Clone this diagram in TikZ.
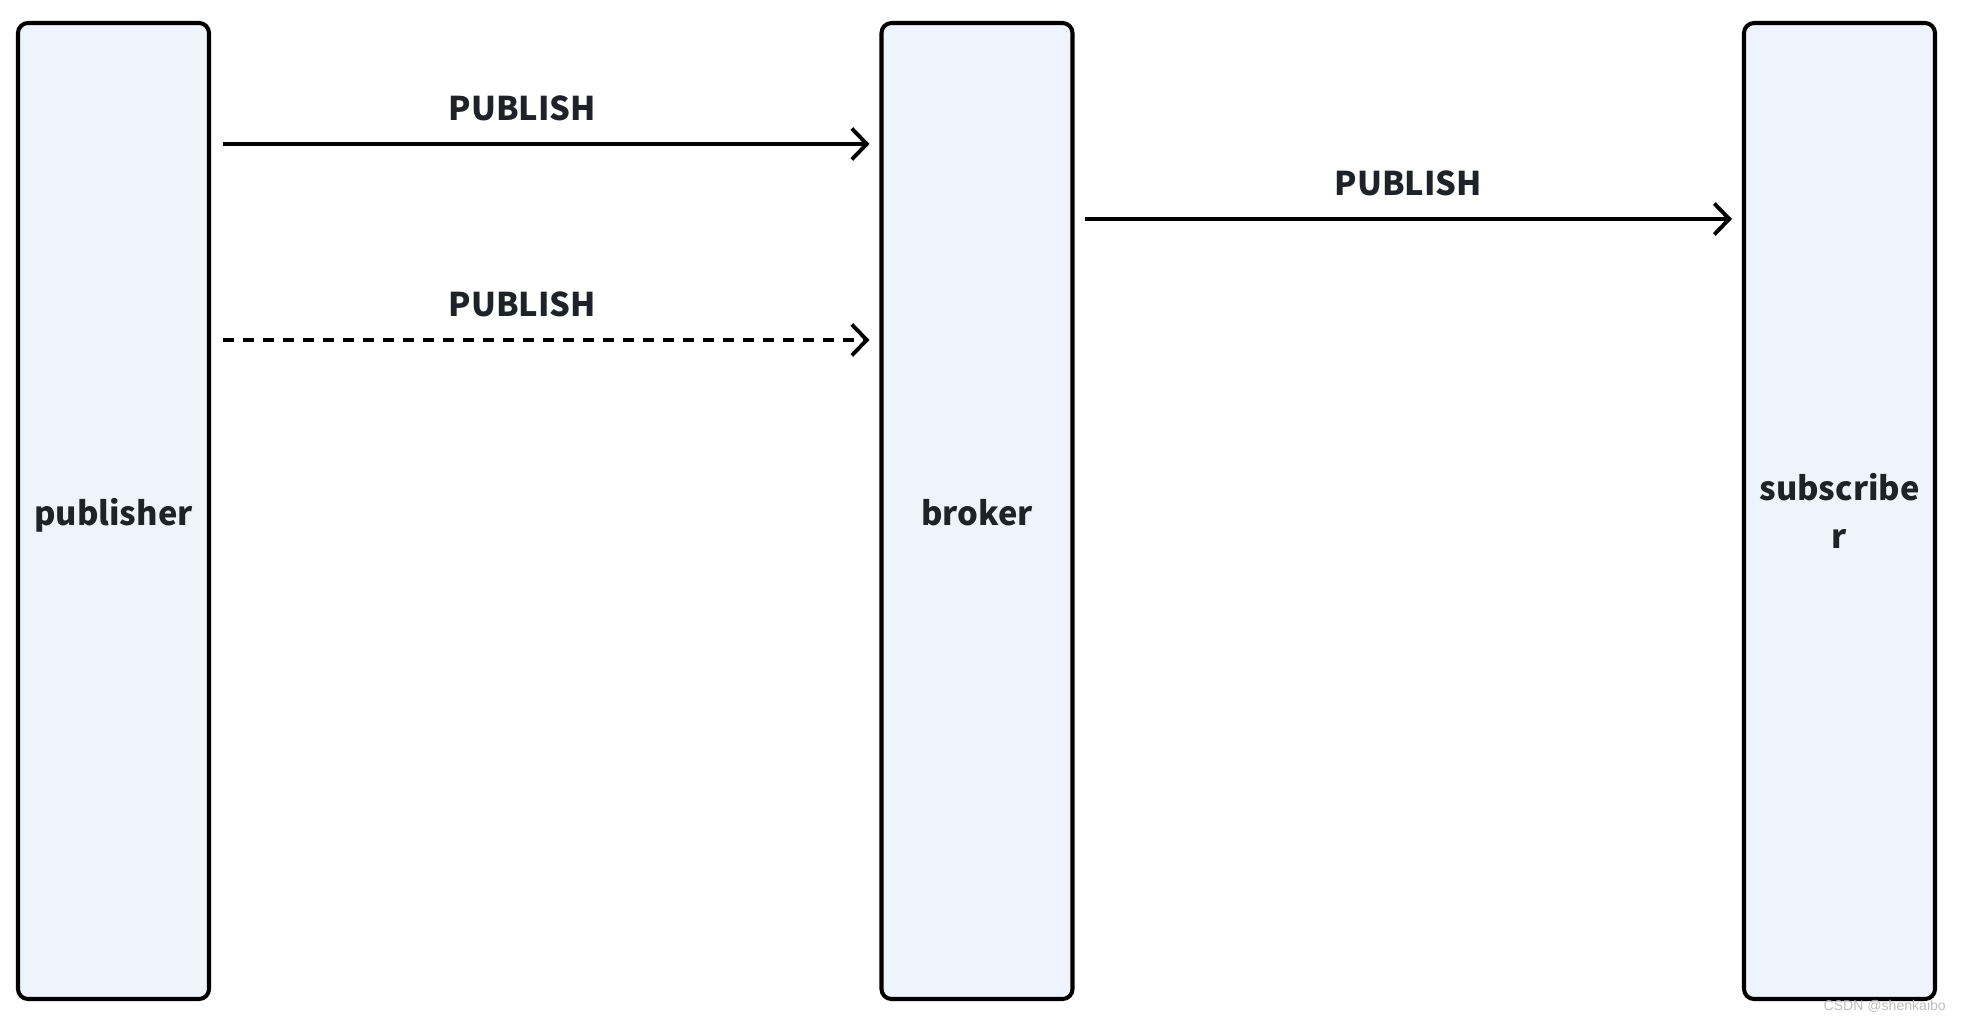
\documentclass[tikz,border=0pt]{standalone}
\usepackage{fontspec}
\usepackage{xcolor}
\usepackage{tikz}
\usetikzlibrary{arrows.meta}
\newfontfamily\labelfont{Noto Sans CJK SC}
\newfontfamily\markfont{Liberation Sans}
\definecolor{boxfill}{RGB}{239,243,252}
\definecolor{inkdark}{RGB}{31,35,41}
\definecolor{markgray}{RGB}{190,190,190}
\newcommand{\droptext}[2][0.09cm]{\raisebox{-#1}[\height][\depth]{#2}}
\tikzset {
  % tall participant boxes
  main/.style = {draw, rounded corners=0.2cm, line width=2.3pt, fill=boxfill,
    minimum width=3.82cm, minimum height=19.52cm, align=center,
    text=inkdark, font=\labelfont\bfseries\fontsize{18.6}{27.1}\selectfont},
  % messages between the boxes
  msg/.style = {line width=2.2pt, -{Straight Barb[length=0.3cm, width=0.62cm, line width=2.2pt]}},
  later/.style = {msg, dash pattern=on 0.22cm off 0.18cm},
  % text over a message
  mid/.style = {anchor=base, yshift=0.46cm, text=inkdark,
    font=\labelfont\bfseries\fontsize{18.6}{26.7}\selectfont},
}

\begin{document}
\begin{tikzpicture}
        \useasboundingbox (0,0) rectangle (39.3,-20.4);

        \node[main] (pub) at (2.27,-10.22) {\droptext{publisher}};
        \node[main] (brk) at (19.54,-10.22) {\droptext[0.04cm]{broker}};
        \node[main] (sub) at (36.79,-10.22) {subscribe\\r};

        \draw [msg] ([shift={(0.24,-2.46)}]pub.north east) -- node[mid, pos=0.463] {PUBLISH} ([shift={(-0.2,-2.46)}]brk.north west);
        \draw [later] ([shift={(0.24,-6.38)}]pub.north east) -- node[mid, pos=0.463] {PUBLISH} ([shift={(-0.2,-6.38)}]brk.north west);
        \draw [msg] ([shift={(0.2,-3.96)}]brk.north east) -- node[mid] {PUBLISH} ([shift={(-0.2,-3.96)}]sub.north west);

        \node (mark) [anchor=base east, text=markgray, font=\markfont\fontsize{8}{9}\selectfont] at (39.04,-20.2) {CSDN @shenkaibo};
      \end{tikzpicture}
\end{document}
